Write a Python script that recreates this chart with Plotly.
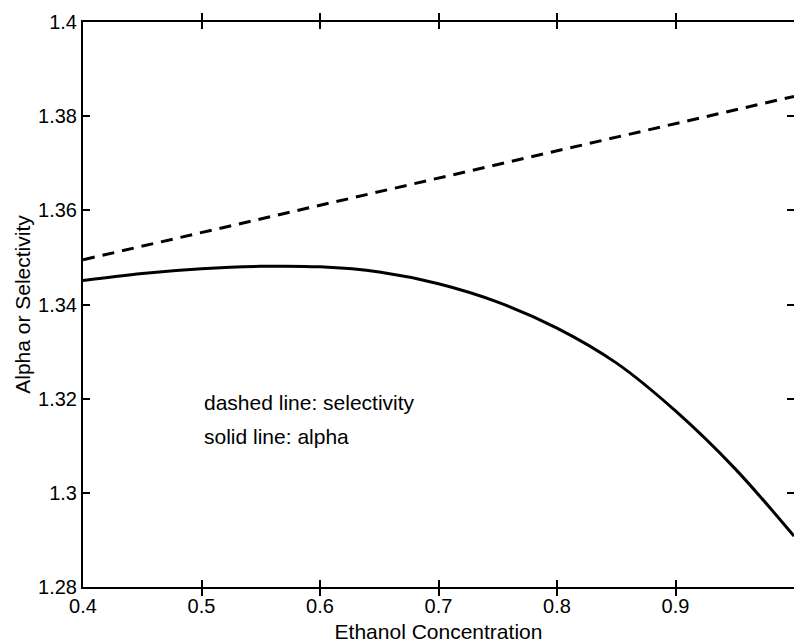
import plotly.graph_objects as go

# Ethanol concentration grid and the two measured quantities
conc_alpha = [0.40, 0.45, 0.50, 0.55, 0.60, 0.65, 0.70, 0.75, 0.80, 0.85, 0.90, 0.95, 1.00]
alpha = [1.3451, 1.3466, 1.3476, 1.3481, 1.3480, 1.3469, 1.3444, 1.3405, 1.3350,
         1.3276, 1.3174, 1.3052, 1.2908]

conc_sel = [0.40, 0.70, 1.00]
selectivity = [1.3495, 1.3668, 1.3842]

x_ticks = [0.4, 0.5, 0.6, 0.7, 0.8, 0.9, 1.0]
x_tick_text = ["0.4", "0.5", "0.6", "0.7", "0.8", "0.9", "1"]
y_ticks = [1.28, 1.30, 1.32, 1.34, 1.36, 1.38, 1.40]
y_tick_text = ["1.28", "1.3", "1.32", "1.34", "1.36", "1.38", "1.4"]

X_RANGE = [0.4, 1.0]
Y_RANGE = [1.28, 1.40]

FONT = "Arial"

fig = go.Figure()
fig.add_trace(go.Scatter(x=conc_sel, y=selectivity, mode="lines",
                         line=dict(color="black", width=3, dash="12px,8px"), showlegend=False))
fig.add_trace(go.Scatter(x=conc_alpha, y=alpha, mode="lines",
                         line=dict(color="black", width=3, shape="spline"), showlegend=False))
# hidden point on the right-hand axis so its tick marks are drawn
fig.add_trace(go.Scatter(x=[0.5], y=[1.3], yaxis="y2", mode="markers",
                         marker=dict(size=1, color="white"), showlegend=False))

fig.add_annotation(x=0.5, y=1.3191, text="dashed line: selectivity", showarrow=False,
                   xanchor="left", yanchor="middle", font=dict(family=FONT, size=21, color="black"))
fig.add_annotation(x=0.5, y=1.3119, text="solid line: alpha", showarrow=False,
                   xanchor="left", yanchor="middle", font=dict(family=FONT, size=21, color="black"))

fig.update_layout(
    width=794, height=643,
    margin=dict(l=83, r=0, t=22, b=56),
    template="none",
    xaxis=dict(range=X_RANGE, tickvals=x_ticks, ticktext=x_tick_text, showgrid=False,
               zeroline=False, showline=True, linecolor="black", linewidth=2, mirror="allticks",
               ticks="inside", ticklen=7, tickwidth=2, tickcolor="black",
               tickfont=dict(family=FONT, size=20, color="black"),
               title=dict(text="Ethanol Concentration", font=dict(family=FONT, size=21, color="black"))),
    yaxis=dict(range=Y_RANGE, tickvals=y_ticks, ticktext=y_tick_text, showgrid=False,
               zeroline=False, showline=True, linecolor="black", linewidth=2,
               ticks="inside", ticklen=7, tickwidth=2, tickcolor="black",
               tickfont=dict(family=FONT, size=20, color="black"),
               title=dict(text="Alpha or Selectivity", font=dict(family=FONT, size=21, color="black"))),
    yaxis2=dict(overlaying="y", side="right", range=Y_RANGE, tickvals=y_ticks,
                showticklabels=False, showgrid=False, zeroline=False,
                ticks="inside", ticklen=7, tickwidth=2, tickcolor="black"),
)

fig.write_html("out.html")
